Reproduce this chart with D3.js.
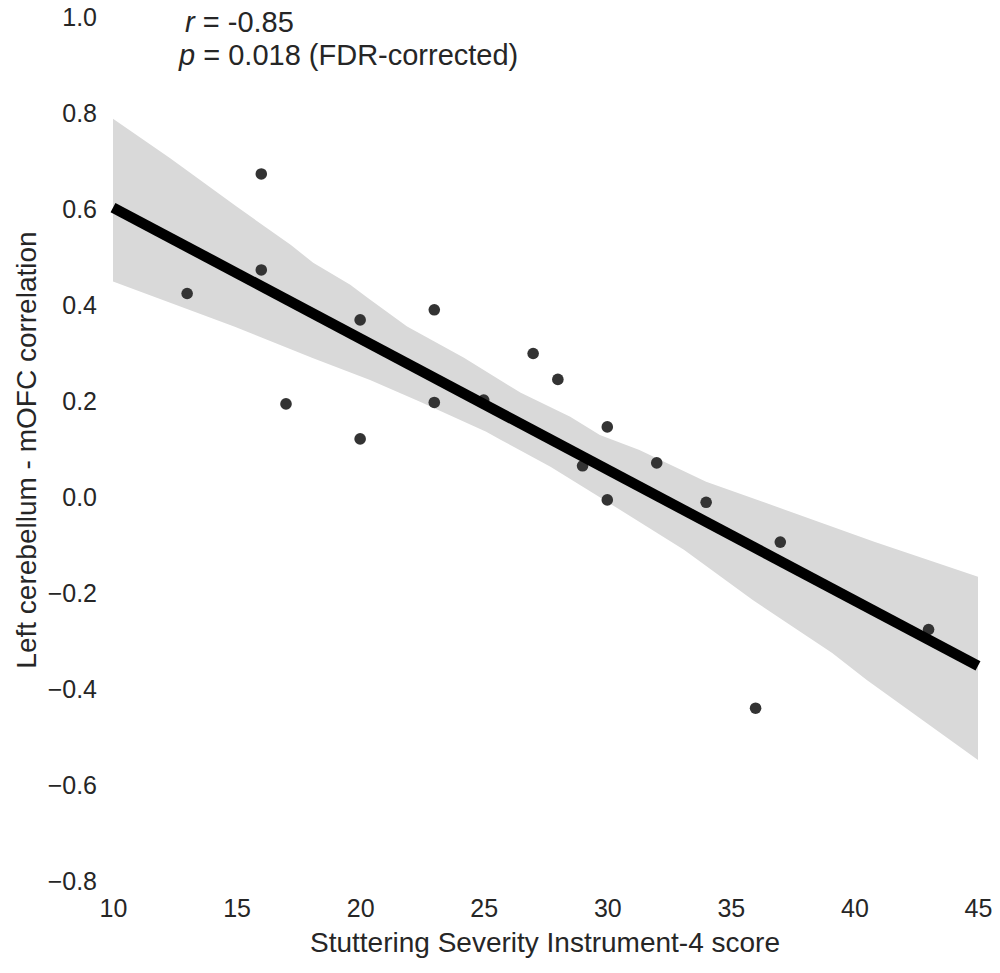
<!DOCTYPE html>
<html>
<head>
<meta charset="utf-8">
<script src="https://cdn.jsdelivr.net/npm/d3@7"></script>
<style>
  html, body { margin: 0; padding: 0; background: #fff; }
  svg { display: block; font-family: "Liberation Sans", Arial, Helvetica, sans-serif; }
</style>
</head>
<body>
<svg id="chart"></svg>
<script>
// SSI-4 score per participant and the matching connectivity value
const ssiScores = [13, 16, 16, 17, 20, 20, 23, 23, 25, 27, 28, 29, 30, 30, 32, 34, 36, 37, 43];
const connectivity = [0.424, 0.673, 0.473, 0.194, 0.369, 0.121, 0.390, 0.197, 0.202, 0.299,
    0.245, 0.065, 0.146, -0.006, 0.071, -0.011, -0.440, -0.094, -0.276];

// fitted line, read at the ends of the x range
const fitX = [10, 45];
const fitY = [0.603, -0.352];

// bootstrap confidence band, upper and lower edge
const bandUpperX = [10, 12.3, 15, 17.2, 18.1, 19.6, 20.3, 21.9, 24.2, 26.5, 28.5, 29.7, 31.3, 34, 40.8, 45];
const bandUpperY = [0.788, 0.706, 0.605, 0.525, 0.488, 0.442, 0.415, 0.355, 0.290, 0.217, 0.167, 0.129, 0.098, 0.032, -0.093, -0.166];
const bandLowerX = [10, 14.9, 18.1, 20.4, 22.4, 25.1, 25.7, 27.7, 30.4, 33.1, 35.9, 39.1, 40.5, 45];
const bandLowerY = [0.449, 0.355, 0.289, 0.244, 0.199, 0.136, 0.119, 0.063, -0.023, -0.110, -0.215, -0.325, -0.381, -0.548];

const xTicks = [10, 15, 20, 25, 30, 35, 40, 45];
const yTicks = [-0.8, -0.6, -0.4, -0.2, 0.0, 0.2, 0.4, 0.6, 0.8, 1.0];

const width = 1000;
const height = 973;

const x = d3.scaleLinear().domain([10, 45]).range([113, 978]);
const y = d3.scaleLinear().domain([-0.8, 1.0]).range([881, 17]);

const svg = d3.select("#chart")
    .attr("width", width)
    .attr("height", height)
    .attr("viewBox", [0, 0, width, height]);

// band: walk the upper edge left to right, then the lower edge back
const bandPts = bandUpperX.map((v, i) => [v, bandUpperY[i]])
    .concat(bandLowerX.map((v, i) => [v, bandLowerY[i]]).reverse());

svg.append("path")
    .datum(bandPts)
    .attr("fill", "#d9d9d9")
    .attr("d", d3.line().x(d => x(d[0])).y(d => y(d[1])).curve(d3.curveLinearClosed));

svg.append("g")
    .attr("fill", "#333333")
    .selectAll("circle")
    .data(ssiScores.map((v, i) => ({ s: v, c: connectivity[i] })))
    .join("circle")
    .attr("cx", d => x(d.s))
    .attr("cy", d => y(d.c))
    .attr("r", 5.8);

svg.append("path")
    .datum(fitX.map((v, i) => [v, fitY[i]]))
    .attr("fill", "none")
    .attr("stroke", "#000")
    .attr("stroke-width", 10.5)
    .attr("d", d3.line().x(d => x(d[0])).y(d => y(d[1])));

// axes without spines or tick marks
const gx = svg.append("g")
    .attr("transform", `translate(0,${y(-0.8)})`)
    .call(d3.axisBottom(x).tickValues(xTicks).tickSize(0).tickPadding(18))
    .call(g => g.select(".domain").remove());

const gy = svg.append("g")
    .attr("transform", `translate(${x(10)},0)`)
    .call(d3.axisLeft(y).tickValues(yTicks).tickSize(0).tickPadding(16)
        .tickFormat(d => d3.format(".1f")(d).replace("-", "\u2212")))
    .call(g => g.select(".domain").remove());

svg.selectAll(".tick text")
    .attr("fill", "#262626")
    .style("font-size", "25px")
    .style("font-family", "'Liberation Sans', Arial, sans-serif");

svg.append("text")
    .attr("x", 545)
    .attr("y", 952)
    .attr("text-anchor", "middle")
    .attr("fill", "#262626")
    .style("font-size", "28px")
    .text("Stuttering Severity Instrument-4 score");

svg.append("text")
    .attr("transform", "translate(36,450) rotate(-90)")
    .attr("text-anchor", "middle")
    .attr("fill", "#262626")
    .style("font-size", "28px")
    .text("Left cerebellum - mOFC correlation");

const note = svg.append("text")
    .attr("fill", "#262626")
    .style("font-size", "29px");

const l1 = note.append("tspan").attr("x", 185).attr("y", 32);
l1.append("tspan").style("font-style", "italic").text("r");
l1.append("tspan").text(" = -0.85");

const l2 = note.append("tspan").attr("x", 179).attr("y", 65);
l2.append("tspan").style("font-style", "italic").text("p");
l2.append("tspan").text(" = 0.018 (FDR-corrected)");
</script>
</body>
</html>
